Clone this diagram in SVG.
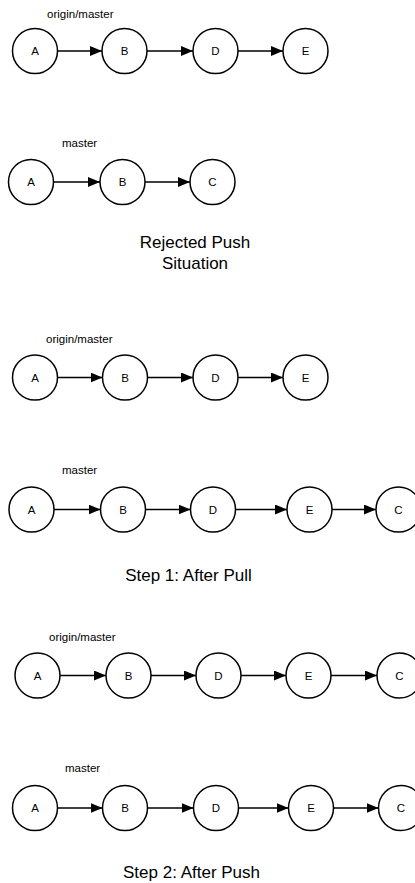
<svg xmlns="http://www.w3.org/2000/svg" width="415" height="883" viewBox="0 0 415 883">
<style>
.n{fill:#fff;stroke:#000;stroke-width:1.5}
.l{font-family:"Liberation Sans",Arial,sans-serif;font-size:11.5px;fill:#000;text-anchor:middle}
.c{fill:none;stroke:#000;stroke-width:1.5}
.lbl{font-family:"Liberation Sans",Arial,sans-serif;font-size:11.5px;fill:#000}
.t{font-family:"Liberation Sans",Arial,sans-serif;font-size:17px;fill:#000;text-anchor:middle}
</style>
<defs>
<marker id="ah" markerUnits="userSpaceOnUse" markerWidth="12" markerHeight="10" refX="12" refY="5" orient="auto">
<path d="M0,0 L12,5 L0,10 Z" fill="#000"/>
</marker>
</defs>
<rect width="415" height="883" fill="#fff"/>
<g id="connectors">
<line class="c" x1="58" y1="51" x2="102" y2="51" marker-end="url(#ah)"/>
<line class="c" x1="147" y1="51" x2="193" y2="51" marker-end="url(#ah)"/>
<line class="c" x1="238" y1="51" x2="283" y2="51" marker-end="url(#ah)"/>
<line class="c" x1="54" y1="182" x2="100" y2="182" marker-end="url(#ah)"/>
<line class="c" x1="145" y1="182" x2="190" y2="182" marker-end="url(#ah)"/>
<line class="c" x1="57.5" y1="377.5" x2="102.5" y2="377.5" marker-end="url(#ah)"/>
<line class="c" x1="147.5" y1="377.5" x2="193" y2="377.5" marker-end="url(#ah)"/>
<line class="c" x1="238" y1="377.5" x2="283" y2="377.5" marker-end="url(#ah)"/>
<line class="c" x1="54" y1="509.5" x2="100.5" y2="509.5" marker-end="url(#ah)"/>
<line class="c" x1="145.5" y1="509.5" x2="190.5" y2="509.5" marker-end="url(#ah)"/>
<line class="c" x1="235.5" y1="509.5" x2="287" y2="509.5" marker-end="url(#ah)"/>
<line class="c" x1="332" y1="509.5" x2="376" y2="509.5" marker-end="url(#ah)"/>
<line class="c" x1="60" y1="675.5" x2="106" y2="675.5" marker-end="url(#ah)"/>
<line class="c" x1="151" y1="675.5" x2="196" y2="675.5" marker-end="url(#ah)"/>
<line class="c" x1="241" y1="675.5" x2="286" y2="675.5" marker-end="url(#ah)"/>
<line class="c" x1="331" y1="675.5" x2="377" y2="675.5" marker-end="url(#ah)"/>
<line class="c" x1="57.5" y1="808" x2="102.5" y2="808" marker-end="url(#ah)"/>
<line class="c" x1="147.5" y1="808" x2="193.5" y2="808" marker-end="url(#ah)"/>
<line class="c" x1="238.5" y1="808" x2="288.5" y2="808" marker-end="url(#ah)"/>
<line class="c" x1="333.5" y1="808" x2="378.5" y2="808" marker-end="url(#ah)"/>
</g>
<g id="section1">
<text class="lbl" x="47" y="18">origin/master</text>
<g id="r1A"><circle class="n" cx="35" cy="51" r="22.5"/><text class="l" x="35" y="55">A</text></g>
<g id="r1B"><circle class="n" cx="124.5" cy="51" r="22.5"/><text class="l" x="124.5" y="55">B</text></g>
<g id="r1D"><circle class="n" cx="215.5" cy="51" r="22.5"/><text class="l" x="215.5" y="55">D</text></g>
<g id="r1E"><circle class="n" cx="305.5" cy="51" r="22.5"/><text class="l" x="305.5" y="55">E</text></g>
<text class="lbl" x="62" y="147">master</text>
<g id="r2A"><circle class="n" cx="31" cy="182" r="22.5"/><text class="l" x="31" y="186">A</text></g>
<g id="r2B"><circle class="n" cx="122.5" cy="182" r="22.5"/><text class="l" x="122.5" y="186">B</text></g>
<g id="r2C"><circle class="n" cx="212.5" cy="182" r="22.5"/><text class="l" x="212.5" y="186">C</text></g>
<text class="t" x="195" y="248">Rejected Push</text>
<text class="t" x="195" y="269">Situation</text>
</g>
<g id="section2">
<text class="lbl" x="46" y="343">origin/master</text>
<g id="r3A"><circle class="n" cx="35" cy="377.5" r="22.5"/><text class="l" x="35" y="381.5">A</text></g>
<g id="r3B"><circle class="n" cx="125" cy="377.5" r="22.5"/><text class="l" x="125" y="381.5">B</text></g>
<g id="r3D"><circle class="n" cx="215.5" cy="377.5" r="22.5"/><text class="l" x="215.5" y="381.5">D</text></g>
<g id="r3E"><circle class="n" cx="305.5" cy="377.5" r="22.5"/><text class="l" x="305.5" y="381.5">E</text></g>
<text class="lbl" x="62" y="474">master</text>
<g id="r4A"><circle class="n" cx="31.5" cy="509.5" r="22.5"/><text class="l" x="31.5" y="513.5">A</text></g>
<g id="r4B"><circle class="n" cx="123" cy="509.5" r="22.5"/><text class="l" x="123" y="513.5">B</text></g>
<g id="r4D"><circle class="n" cx="213" cy="509.5" r="22.5"/><text class="l" x="213" y="513.5">D</text></g>
<g id="r4E"><circle class="n" cx="309.5" cy="509.5" r="22.5"/><text class="l" x="309.5" y="513.5">E</text></g>
<g id="r4C"><circle class="n" cx="398.5" cy="509.5" r="22.5"/><text class="l" x="398.5" y="513.5">C</text></g>
<text class="t" x="188.5" y="581">Step 1: After Pull</text>
</g>
<g id="section3">
<text class="lbl" x="49" y="641">origin/master</text>
<g id="r5A"><circle class="n" cx="37.5" cy="675.5" r="22.5"/><text class="l" x="37.5" y="679.5">A</text></g>
<g id="r5B"><circle class="n" cx="128.5" cy="675.5" r="22.5"/><text class="l" x="128.5" y="679.5">B</text></g>
<g id="r5D"><circle class="n" cx="218.5" cy="675.5" r="22.5"/><text class="l" x="218.5" y="679.5">D</text></g>
<g id="r5E"><circle class="n" cx="308.5" cy="675.5" r="22.5"/><text class="l" x="308.5" y="679.5">E</text></g>
<g id="r5C"><circle class="n" cx="399.5" cy="675.5" r="22.5"/><text class="l" x="399.5" y="679.5">C</text></g>
<text class="lbl" x="65" y="772">master</text>
<g id="r6A"><circle class="n" cx="35" cy="808" r="22.5"/><text class="l" x="35" y="812">A</text></g>
<g id="r6B"><circle class="n" cx="125" cy="808" r="22.5"/><text class="l" x="125" y="812">B</text></g>
<g id="r6D"><circle class="n" cx="216" cy="808" r="22.5"/><text class="l" x="216" y="812">D</text></g>
<g id="r6E"><circle class="n" cx="311" cy="808" r="22.5"/><text class="l" x="311" y="812">E</text></g>
<g id="r6C"><circle class="n" cx="401" cy="808" r="22.5"/><text class="l" x="401" y="812">C</text></g>
<text class="t" x="191.5" y="878">Step 2: After Push</text>
</g>
</svg>
